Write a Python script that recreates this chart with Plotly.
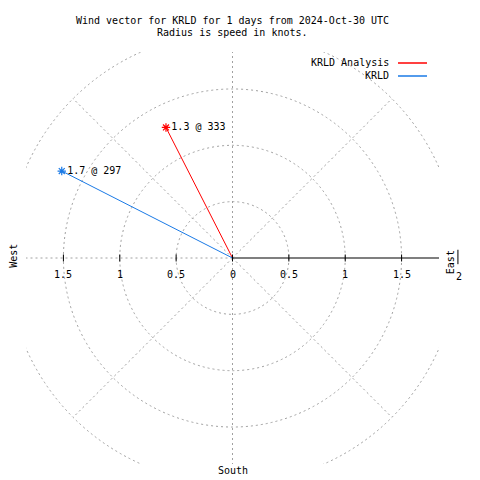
import math
import plotly.graph_objects as go

# ---- data ----
station_names = ["KRLD Analysis", "KRLD"]
speeds_kt = [1.3, 1.7]
directions_deg = [333, 297]
series_colors = ["#ff0000", "#1a7ae6"]
ring_radii = [0.5, 1.0, 1.5, 2.0]
spoke_angles = [0, 45, 90, 135, 180, 225, 270, 315]
tick_values = [0.5, 1.0, 1.5]
title_lines = ["Wind vector for KRLD for 1 days from 2024-Oct-30 UTC",
               "Radius is speed in knots."]

FONT = dict(family="DejaVu Sans Mono, Liberation Mono, monospace", size=10, color="black")
GRID = dict(color="#a0a0a0", width=1, dash="2px,3px")

XMAX = 1.832
YMAX = 1.828

fig = go.Figure()

# vectors
for name, s, d, c in zip(station_names, speeds_kt, directions_deg, series_colors):
    xe = s * math.sin(math.radians(d))
    ye = s * math.cos(math.radians(d))
    fig.add_trace(go.Scatter(x=[0, xe], y=[0, ye], mode="lines",
                             line=dict(color=c, width=1), name=name,
                             showlegend=False, hoverinfo="skip"))
    fig.add_trace(go.Scatter(x=[xe], y=[ye], mode="markers+text",
                             marker=dict(symbol="asterisk-open", size=7, color=c,
                                         line=dict(color=c, width=1.2)),
                             text=[f"{s:g} @ {d}"], textposition="middle right",
                             textfont=FONT, showlegend=False, hoverinfo="skip"))

shapes = []
# rings
for r in ring_radii:
    shapes.append(dict(type="circle", xref="x", yref="y", x0=-r, y0=-r, x1=r, y1=r,
                       line=GRID, layer="below"))
# spokes
rmax = ring_radii[-1]
for a in spoke_angles:
    if a == 0:
        continue  # east spoke is the solid axis
    shapes.append(dict(type="line", xref="x", yref="y", x0=0, y0=0,
                       x1=rmax * math.cos(math.radians(a)),
                       y1=rmax * math.sin(math.radians(a)),
                       line=GRID, layer="below"))
# solid east axis
shapes.append(dict(type="line", xref="x", yref="y", x0=0, y0=0, x1=rmax, y1=0,
                   line=dict(color="black", width=1.2)))
# ticks
th = 0.031
for t in [0] + tick_values + [-v for v in tick_values]:
    shapes.append(dict(type="line", xref="x", yref="y", x0=t, x1=t, y0=-th, y1=th,
                       line=dict(color="black", width=1)))

annotations = []
# tick labels
for t in [0] + tick_values:
    for sgn in ([1, -1] if t else [1]):
        annotations.append(dict(x=sgn * t, y=-0.15, xref="x", yref="y",
                                text=f"{t:g}", showarrow=False, font=FONT))


def px(xd):
    return (xd + XMAX) / (2 * XMAX)


ann_fixed = [
    dict(text="West", x=px(-1.94), y=0.505, textangle=-90),
    dict(text="East", x=px(1.93), y=0.49, textangle=-90),
    dict(text="2", x=px(2.005), y=0.455, textangle=0),
    dict(text="South", x=0.5, y=-0.015, textangle=0),
]
for a in ann_fixed:
    annotations.append(dict(xref="paper", yref="paper", showarrow=False, font=FONT,
                            xanchor="center", yanchor="middle", **a))
# tick stub at radius 2 (outside plot)
shapes.append(dict(type="line", xref="paper", yref="paper", x0=px(2.0), x1=px(2.0),
                   y0=0.485, y1=0.52, line=dict(color="black", width=1)))

# title
for i, line in enumerate(title_lines):
    annotations.append(dict(text=line, xref="paper", yref="paper", x=0.5,
                            y=1 + (32 - i * 13) / 412.0, showarrow=False, font=FONT,
                            xanchor="center", yanchor="middle"))

# legend (manual)
for i, (name, c) in enumerate(zip(station_names, series_colors)):
    ypix = 63 + 13 * i
    yp = 1 - (ypix - 52) / 412.0
    annotations.append(dict(text=name, xref="paper", yref="paper",
                            x=(391 - 26) / 413.0, y=yp, xanchor="right",
                            yanchor="middle", showarrow=False, font=FONT))
    shapes.append(dict(type="line", xref="paper", yref="paper",
                       x0=(398 - 26) / 413.0, x1=(427 - 26) / 413.0, y0=yp, y1=yp,
                       line=dict(color=c, width=1.5)))

fig.update_layout(
    width=480, height=480,
    margin=dict(l=26, r=41, t=52, b=16),
    paper_bgcolor="white", plot_bgcolor="white",
    xaxis=dict(range=[-XMAX, XMAX], visible=False, showgrid=False, zeroline=False,
               fixedrange=True),
    yaxis=dict(range=[-YMAX, YMAX], visible=False, showgrid=False, zeroline=False,
               fixedrange=True),
    shapes=shapes, annotations=annotations, showlegend=False,
)

fig.write_html("out.html", config={"displayModeBar": False},
               post_script="document.body.style.margin='0';")
